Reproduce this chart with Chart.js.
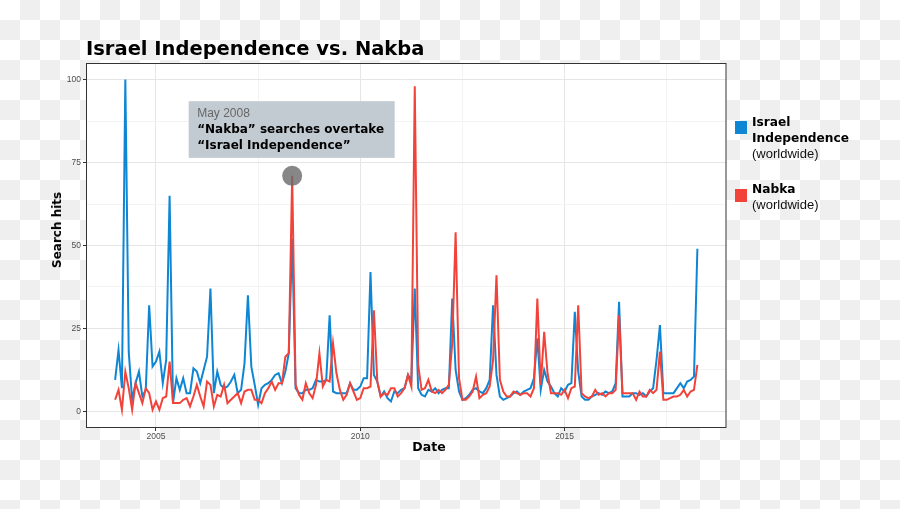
<!DOCTYPE html>
<html>
<head>
<meta charset="utf-8">
<title>Israel Independence vs. Nakba</title>
<script src="https://cdn.jsdelivr.net/npm/chart.js@4.4.1/dist/chart.umd.min.js"></script>
<style>
  html, body { margin: 0; padding: 0; }
  body {
    width: 900px; height: 509px; overflow: hidden;
    background-color: #fff;
    background-image: conic-gradient(#efefef 25%, transparent 0 50%, #efefef 0 75%, transparent 0);
    background-size: 40px 40px;
  }
  #wrap { position: relative; width: 900px; height: 509px; }
  canvas { position: absolute; left: 0; top: 0; }
  .t { position: absolute; white-space: nowrap; }
  .bold { font-family: "DejaVu Sans", sans-serif; font-weight: bold; color: #000; }
  .reg { font-family: "Liberation Sans", Arial, sans-serif; font-weight: normal; color: #111; }
  #title { left: 86px; top: 39px; font-size: 19.5px; line-height: 20px; }
  #ytitle { left: 57px; top: 230px; font-size: 12px; transform: translate(-50%, -50%) rotate(-90deg); }
  #xtitle { left: 429px; top: 446px; font-size: 12.5px; transform: translate(-50%, -50%); }
  .key { position: absolute; left: 735px; width: 12px; height: 13px; }
  .leg { position: absolute; left: 752px; font-size: 12.2px; line-height: 16px; }
  .leg span { display: block; }
  .leg .reg { font-size: 13px; }
</style>
</head>
<body>
<div id="wrap">
  <canvas id="chart" width="900" height="509"></canvas>
  <div id="title" class="t bold">Israel Independence vs. Nakba</div>
  <div id="ytitle" class="t bold">Search hits</div>
  <div id="xtitle" class="t bold">Date</div>
  <div class="key" style="top:121px;background:#0e86d4"></div>
  <div class="leg bold" style="top:114px"><span>Israel</span><span>Independence</span><span class="reg">(worldwide)</span></div>
  <div class="key" style="top:189px;background:#f2433a"></div>
  <div class="leg bold" style="top:181px"><span>Nabka</span><span class="reg">(worldwide)</span></div>
</div>
<script>
// monthly Google Trends values, Jan 2004 .. Apr 2018
const startYear = 2004;
const months = [];
for (let i = 0; i < 172; i++) {
    const y = startYear + Math.floor(i / 12);
    months.push(y + '-' + String(i % 12 + 1).padStart(2, '0'));
}

const israelIndependence = [
    9.5, 18.5, 7, 100, 18, 3.5, 8.5, 12, 4.5, 6.5, 32, 13.5,
    15, 18, 8.5, 15.5, 65, 2.5, 10, 6.5, 10, 5.5, 5.5, 13,
    12, 8.5, 12.5, 16.5, 37, 5.5, 12, 8, 7, 7.5, 9, 11,
    5.5, 6.5, 14.5, 35, 13.5, 8, 2, 7, 8, 8.5, 9.5, 11,
    11.5, 8.5, 12, 17.5, 52, 7, 5.5, 5.5, 6.5, 6.5, 7, 9.5,
    9, 9, 9.5, 29, 6, 5.5, 5.5, 5.5, 5.5, 8.5, 6.5, 6.5,
    7.5, 10, 10, 42, 11, 9, 4.5, 6, 4, 3, 6, 5.5,
    6.5, 7, 11, 9.5, 37, 7, 5, 4.5, 6.5, 6, 7, 5.5,
    6.5, 7, 7, 34, 12.5, 6, 3.5, 4, 5, 6.5, 7, 6,
    5.5, 7, 9.5, 32, 11, 4.5, 3.5, 4, 4.5, 5.5, 6, 5,
    6, 6.5, 7, 10, 22, 6.5, 12.5, 9, 7.5, 5.5, 4.5, 7,
    6, 8, 8.5, 30, 12, 4.5, 3.5, 3.5, 4.5, 5, 5.5, 5,
    6, 5.5, 6, 8.5, 33, 4.5, 4.5, 4.5, 5.5, 5.5, 5, 5.5,
    4.5, 6, 7, 15.5, 26, 5.5, 5.5, 5.5, 5.5, 7, 8.5, 7,
    9, 9.5, 10.5, 49
];

const nakba = [
    3.5, 6.5, 0.5, 12, 7, 0.5, 8.5, 5.5, 2.5, 7, 5.5, 0.5,
    3, 0.5, 4, 4.5, 15, 2.5, 2.5, 2.5, 3.5, 4, 1.5, 4.5,
    8, 4.5, 1.5, 9, 8, 1.5, 5, 4.5, 8, 2.5, 3.5, 4.5,
    5.5, 2.5, 6, 6.5, 6.5, 3.5, 3.5, 2.5, 5.5, 7, 9, 6.5,
    8.5, 8.5, 16.5, 17.5, 71, 8, 5, 3.5, 8.5, 5.5, 4, 8,
    17.5, 7.5, 9.5, 9, 20.5, 11.5, 6.5, 3.5, 5, 8.5, 6, 3.5,
    4, 7, 7, 7.5, 30.5, 9, 4.5, 5.5, 5, 7, 7, 4.5,
    5.5, 7, 11, 7.5, 98, 14, 6.5, 7, 9.5, 6, 5.5, 6.5,
    5.5, 6.5, 8, 20.5, 54, 10, 3.5, 3.5, 4.5, 6, 10.5, 4,
    5, 5.5, 7.5, 15.5, 41, 9.5, 6, 4.5, 4.5, 6, 5.5, 5,
    5.5, 5.5, 4.5, 7, 34, 8, 24, 11.5, 5.5, 5.5, 5.5, 5,
    6.5, 4, 7, 7.5, 32, 5.5, 4.5, 4, 4.5, 6.5, 5, 5.5,
    4.5, 5.5, 5.5, 6.5, 29, 5.5, 5.5, 5.5, 5.5, 3.5, 6, 4.5,
    4.5, 6.5, 5.5, 6.5, 18, 3.5, 3.5, 4, 4.5, 4.5, 5, 6.5,
    4.5, 6, 6.5, 14
];

const yMajor = [0, 25, 50, 75, 100];
const yMinor = [12.5, 37.5, 62.5, 87.5];
const xMajorYears = [2005, 2010, 2015];
const xMinorYears = [2007.5, 2012.5, 2017.5];

const BLUE = '#0e86d4';
const RED = '#f2433a';

// callout
const noteMonth = '2008-05';
const noteDate = 'May 2008';
const noteLines = ['\u201cNakba\u201d searches overtake', '\u201cIsrael Independence\u201d'];
const noteBox = { xMin: 21.6, xMax: 82.1, yMin: 76.4, yMax: 93.5, textX: 24.1, rows: [89.6, 84.8, 80.0] };

const toMonth = yr => (yr - startYear) * 12;
const points = vals => vals.map((v, i) => ({ x: i, y: v }));

const panelPlugin = {
    id: 'panel',
    beforeDraw(chart) {
        const { ctx, chartArea: a } = chart;
        ctx.save();
        ctx.fillStyle = '#fff';
        ctx.fillRect(a.left, a.top, a.right - a.left, a.bottom - a.top);
        ctx.restore();
    },
    afterDatasetsDraw(chart) {
        const { ctx, scales: { x, y } } = chart;
        ctx.save();
        // highlight point
        const idx = months.indexOf(noteMonth);
        ctx.fillStyle = 'rgba(105,105,105,0.8)';
        ctx.beginPath();
        ctx.arc(x.getPixelForValue(idx), y.getPixelForValue(nakba[idx]), 10, 0, Math.PI * 2);
        ctx.fill();
        // box
        const bx = x.getPixelForValue(noteBox.xMin), by = y.getPixelForValue(noteBox.yMax);
        ctx.fillStyle = '#c3cbd2';
        ctx.fillRect(bx, by, x.getPixelForValue(noteBox.xMax) - bx, y.getPixelForValue(noteBox.yMin) - by);
        const tx = x.getPixelForValue(noteBox.textX);
        ctx.textBaseline = 'middle';
        ctx.fillStyle = '#666';
        ctx.font = '12px "Liberation Sans", Arial, sans-serif';
        ctx.fillText(noteDate, tx, y.getPixelForValue(noteBox.rows[0]));
        ctx.fillStyle = '#000';
        ctx.font = 'bold 12px "DejaVu Sans", sans-serif';
        noteLines.forEach((s, i) => ctx.fillText(s, tx, y.getPixelForValue(noteBox.rows[i + 1])));
        ctx.restore();
    },
    afterDraw(chart) {
        const { ctx, chartArea: a } = chart;
        ctx.save();
        ctx.strokeStyle = '#333';
        ctx.lineWidth = 1;
        ctx.strokeRect(a.left + 0.5, a.top + 0.5, a.right - a.left - 1, a.bottom - a.top - 1);
        ctx.restore();
    }
};

const isMajorX = v => xMajorYears.map(toMonth).includes(v);
const isMajorY = v => yMajor.includes(v);

new Chart(document.getElementById('chart'), {
    type: 'line',
    data: {
        datasets: [
            { label: 'Nabka', data: points(nakba), borderColor: RED, borderWidth: 2, pointRadius: 0, tension: 0 },
            { label: 'Israel Independence', data: points(israelIndependence), borderColor: BLUE, borderWidth: 2, pointRadius: 0, tension: 0 },
        ],
    },
    options: {
        responsive: false,
        animation: false,
        events: [],
        layout: { padding: { top: 63, right: 173.5, bottom: 0, left: 0 } },
        plugins: { legend: { display: false }, tooltip: { enabled: false } },
        scales: {
            x: {
                type: 'linear',
                min: -8.55,
                max: 179.55,
                afterBuildTicks: s => {
                    s.ticks = xMajorYears.concat(xMinorYears).map(toMonth).sort((a, b) => a - b).map(v => ({ value: v }));
                },
                afterFit: s => { s.height = 81; },
                ticks: {
                    autoSkip: false, maxRotation: 0, padding: 1, color: '#4d4d4d',
                    font: { family: '"Liberation Sans", Arial, sans-serif', size: 8.5 },
                    callback: v => isMajorX(v) ? String(startYear + v / 12) : '',
                },
                grid: {
                    color: c => isMajorX(c.tick.value) ? '#e6e6e6' : '#f3f3f3',
                    tickColor: c => isMajorX(c.tick.value) ? '#333' : 'rgba(0,0,0,0)',
                    tickLength: 3,
                },
                border: { display: false },
            },
            y: {
                min: -5,
                max: 105,
                afterBuildTicks: s => {
                    s.ticks = yMajor.concat(yMinor).sort((a, b) => a - b).map(v => ({ value: v }));
                },
                afterFit: s => { s.width = 86; },
                ticks: {
                    padding: 2, color: '#4d4d4d',
                    font: { family: '"Liberation Sans", Arial, sans-serif', size: 8.5 },
                    callback: v => isMajorY(v) ? String(v) : '',
                },
                grid: {
                    color: c => isMajorY(c.tick.value) ? '#e6e6e6' : '#f3f3f3',
                    tickColor: c => isMajorY(c.tick.value) ? '#333' : 'rgba(0,0,0,0)',
                    tickLength: 3,
                },
                border: { display: false },
            },
        },
    },
    plugins: [panelPlugin],
});
</script>
</body>
</html>
